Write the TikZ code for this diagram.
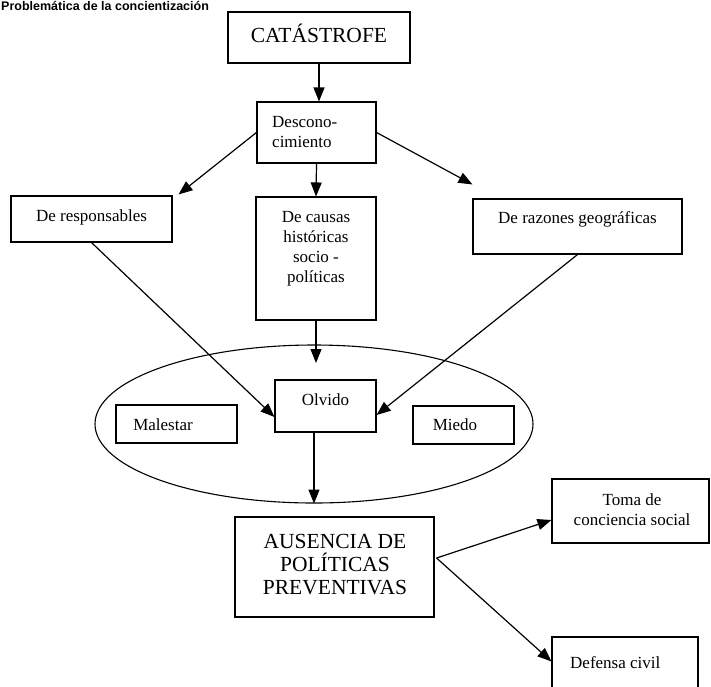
\documentclass[tikz,border=0pt]{standalone}
\usepackage{fontspec}
\setmainfont{Liberation Serif}
\newfontfamily\titlefont{Liberation Sans}
\usetikzlibrary{arrows.meta,calc,shapes.geometric}

\begin{document}
\begin{tikzpicture}[x=1pt, y=-1pt, >={Triangle[length=14pt,width=11pt]},
        caja/.style={draw, line width=1.1pt, inner sep=0pt},
        txt/.style={inner sep=0pt, align=center, font=\fontsize{17}{20}\selectfont},
        grande/.style={inner sep=0pt, align=center, font=\fontsize{21.5}{23}\selectfont},
        flecha/.style={line width=1.2pt, ->}] % unidades en pixeles
        \clip (0,0) rectangle (711,686);

        \node[anchor=base west, inner sep=0pt, font=\titlefont\bfseries\fontsize{12.5}{14}\selectfont] (titulo) at (1,10.5) {Problemática de la concientización};

        % cajas
        \node[caja, minimum width=182pt, minimum height=51pt] (catastrofe) at (319,37.5) {};
        \node[caja, minimum width=119pt, minimum height=61pt] (descono) at (316.5,132.5) {};
        \node[caja, minimum width=161pt, minimum height=46pt] (resp) at (91.5,219) {};
        \node[caja, minimum width=120pt, minimum height=123pt] (causas) at (316,258.5) {};
        \node[caja, minimum width=209pt, minimum height=55pt] (razones) at (577.5,226.5) {};
        \node[draw, ellipse, line width=1.1pt, inner sep=0pt, minimum width=438pt, minimum height=158pt] (grupo) at (314,424) {};
        \node[caja, minimum width=101pt, minimum height=52pt] (olvido) at (325.5,406) {};
        \node[caja, minimum width=121pt, minimum height=38pt] (malestar) at (176.5,424) {};
        \node[caja, minimum width=101pt, minimum height=38pt] (miedo) at (463.5,425) {};
        \node[caja, minimum width=199pt, minimum height=100pt] (ausencia) at (334.5,567) {};
        \node[caja, minimum width=157pt, minimum height=64pt] (toma) at (630.5,511) {};
        \node[caja, minimum width=146pt, minimum height=70pt] (defensa) at (625,672) {};

        % textos
        \node[grande] (t-catastrofe) at (319,33) {CATÁSTROFE};
        \node[txt, anchor=west, align=left] (t-descono) at (272,132) {Descono-\\cimiento};
        \node[txt] (t-resp) at (91.5,217) {De responsables};
        \node[txt] (t-causas) at (316,249) {De causas\\históricas\\socio -\\políticas};
        \node[txt] (t-razones) at (577.5,219) {De razones geográficas};
        \node[txt] (t-olvido) at (325.5,400) {Olvido};
        \node[txt] (t-malestar) at (163,425) {Malestar};
        \node[txt] (t-miedo) at (455,425) {Miedo};
        \node[grande] (t-ausencia) at (335,565) {AUSENCIA DE\\POLÍTICAS\\PREVENTIVAS};
        \node[txt] (t-toma) at (632,509.5) {Toma de\\conciencia social};
        \node[txt, anchor=west] (t-defensa) at (570,663) {Defensa civil};

        \path
        ($(resp.north east)+(6,-1)$) coordinate (p1)
        ($(razones.north west)+(0,-14)$) coordinate (p2)
        (causas.south |- 0,363) coordinate (p3)
        ($(olvido.west)+(0,11)$) coordinate (p4)
        ($(olvido.east)+(0,9)$) coordinate (p5)
        (grupo.south |- olvido.south) coordinate (p6)
        ($(ausencia.east)+(2,-9)$) coordinate (p0)
        ($(toma.west)+(0,9)$) coordinate (p7)
        ($(defensa.north west)+(0,25)$) coordinate (p8)
        ;

        \draw[flecha] (catastrofe.south) -- (catastrofe.south |- descono.north);
        \draw[flecha] (descono.west) -- (p1);
        \draw[flecha] (descono.south) -- (causas.north);
        \draw[flecha] (descono.east) -- (p2);
        \draw[flecha] (causas.south) -- (p3);
        \draw[flecha] (resp.south) -- (p4);
        \draw[flecha] (razones.south) -- (p5);
        \draw[flecha] (p6) -- (grupo.south);
        \draw[flecha] (p0) -- (p7);
        \draw[flecha] (p0) -- (p8);
\end{tikzpicture}
\end{document}
